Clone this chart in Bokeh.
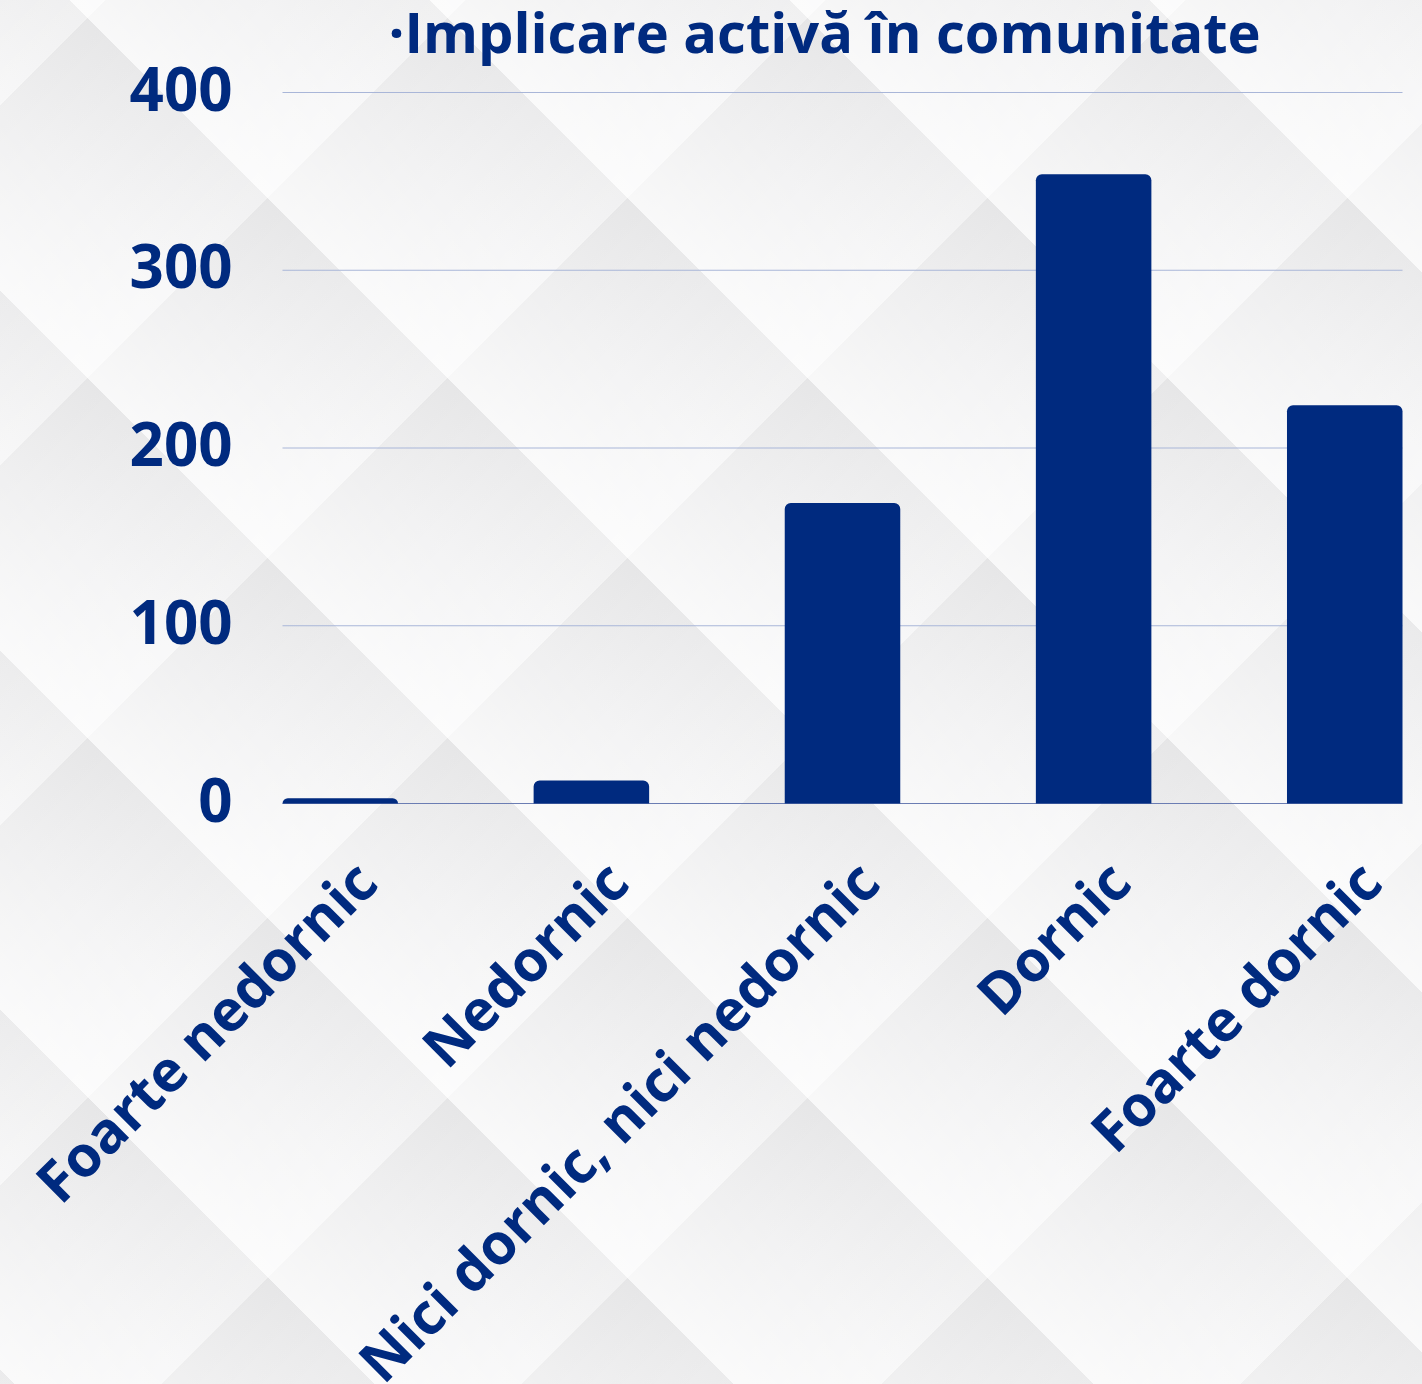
import math
from bokeh.plotting import figure
from bokeh.models import Range1d, InlineStyleSheet
from bokeh.core.properties import value
from bokeh.embed import file_html
from bokeh.resources import INLINE

# ---- data ----
categories = ["Foarte nedornic", "Nedornic", "Nici dornic, nici nedornic", "Dornic", "Foarte dornic"]
counts = [3, 13, 169, 354, 224]
y_ticks = [0, 100, 200, 300, 400]
title_text = "·Implicare activă în comunitate"

# ---- style / layout ----
NAVY = "#002a7f"
GRID = "#a9b6d8"
BASE = "#6b7db3"
FONT = value("Open Sans")
W, H = 1422, 1384
FRAME_L, FRAME_R, FRAME_T, FRAME_B = 282, 1402, 92, 803   # pixel box of the value area
Y_MAX = y_ticks[-1]

xs = list(range(len(categories)))
X0, X1 = -0.23, len(categories) - 1 + 0.23
ppx = (FRAME_R - FRAME_L) / (X1 - X0)
ppy = (FRAME_B - FRAME_T) / Y_MAX

p = figure(
    width=W, height=H,
    x_range=Range1d(X0 - FRAME_L / ppx, X1 + (W - FRAME_R) / ppx),
    y_range=Range1d(-(H - FRAME_B) / ppy, Y_MAX + FRAME_T / ppy),
    output_backend="svg", toolbar_location=None,
    min_border=0, min_border_left=0, min_border_right=0, min_border_top=0, min_border_bottom=0,
)
p.xaxis.visible = False
p.yaxis.visible = False
p.xgrid.grid_line_color = None
p.ygrid.grid_line_color = None
p.outline_line_color = None
p.background_fill_color = None
p.border_fill_color = None

# horizontal grid lines (value ticks above zero) and the zero baseline
grid_vals = [t for t in y_ticks if t > 0]
p.segment(x0=[X0] * len(grid_vals), x1=[X1] * len(grid_vals), y0=grid_vals, y1=grid_vals,
          line_color=GRID, line_width=1)
p.segment(x0=[X0], x1=[X1], y0=[0], y1=[0], line_color=BASE, line_width=1)

# bars
p.vbar(x=xs, top=counts, width=0.46, bottom=0, fill_color=NAVY, line_color=None,
       border_radius=(6, 6, 0, 0))

# y tick labels
p.text(x=[X0] * len(y_ticks), y=y_ticks, text=[str(t) for t in y_ticks],
       x_offset=-50, y_offset=-4, text_align="right", text_baseline="middle",
       text_font=FONT, text_font_size="60px", text_font_style="bold", text_color=NAVY)

# category labels, rotated 45 degrees
p.text(x=xs, y=[0] * len(xs), text=categories, angle=math.pi / 4,
       x_offset=25, y_offset=67, text_align="right", text_baseline="alphabetic",
       text_font=FONT, text_font_size="57px", text_font_style="bold", text_color=NAVY)

# title
p.text(x=[X0], y=[Y_MAX], text=[title_text], x_offset=106, y_offset=-62,
       text_align="left", text_baseline="alphabetic",
       text_font=FONT, text_font_size="56px", text_font_style="bold", text_color=NAVY)

p.stylesheets = [InlineStyleSheet(css="""
:host {
  background-color: #f1f1f2;
  background-image:
    repeating-linear-gradient(45deg, rgba(255,255,255,0.65) 10px, rgba(255,255,255,0.2) 137px, rgba(0,0,0,0.025) 264.5px),
    repeating-linear-gradient(-45deg, rgba(255,255,255,0.4) 128px, rgba(255,255,255,0.0) 255px, rgba(0,0,0,0.022) 382.5px);
}
""")]

open("out.html", "w").write(file_html(p, INLINE))
